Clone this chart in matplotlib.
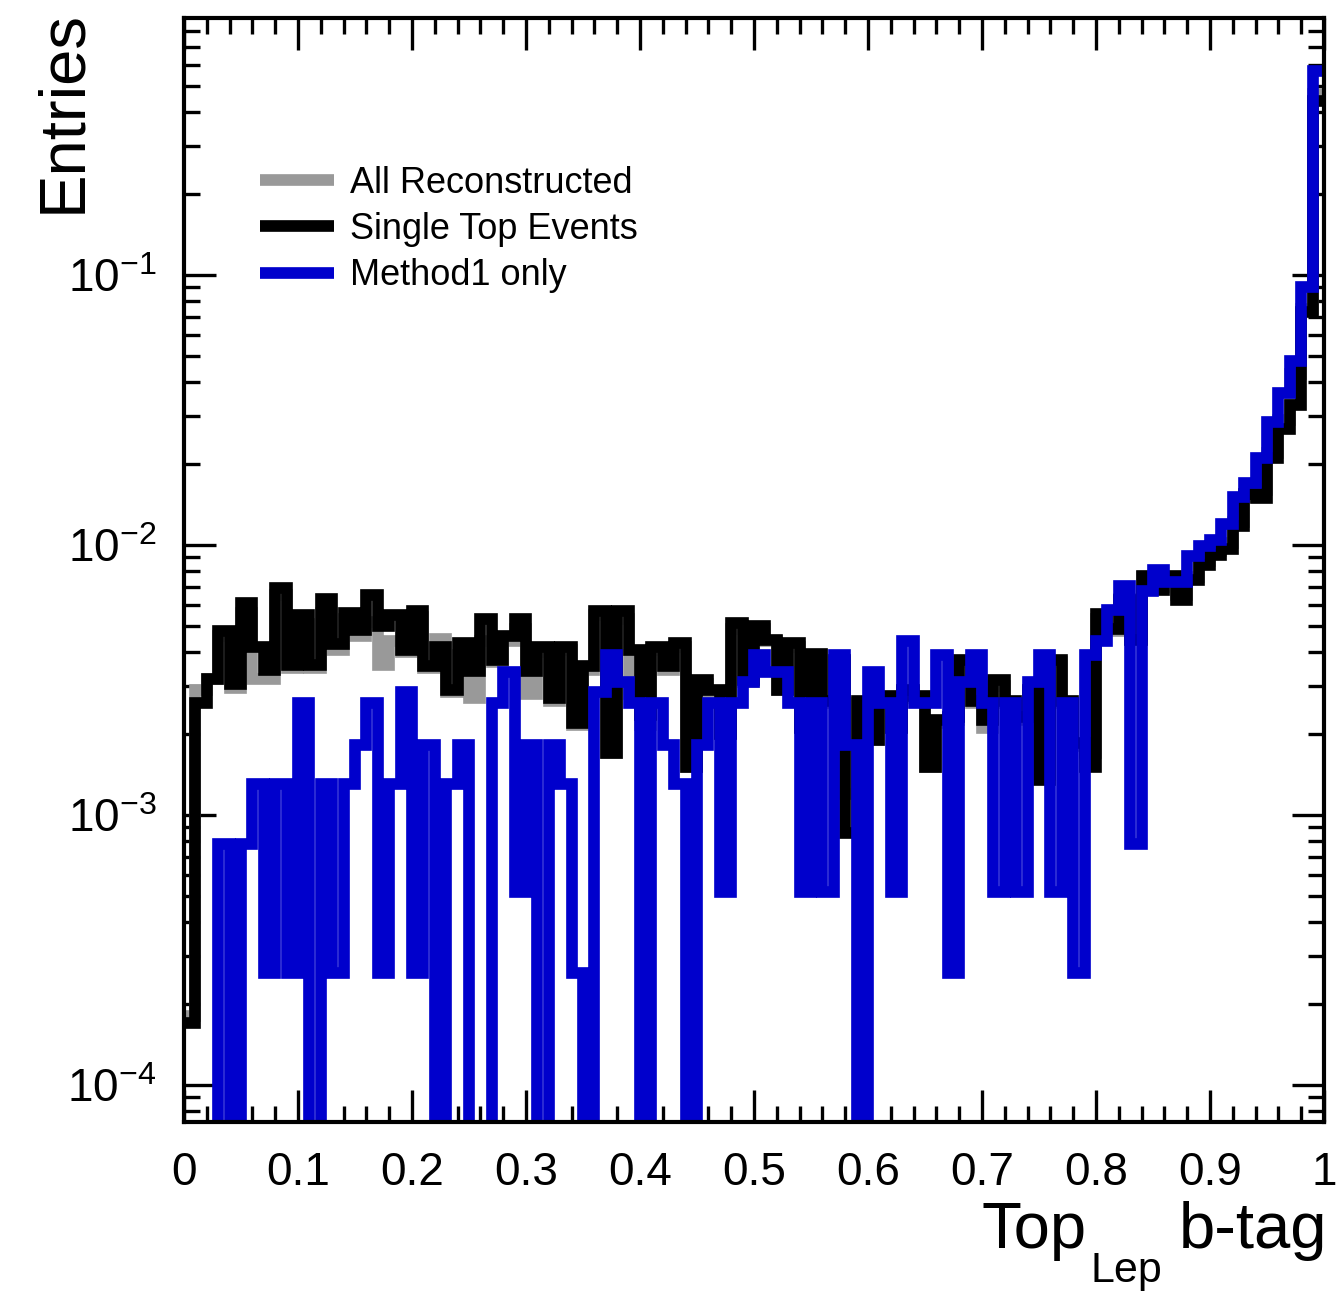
import numpy as np
import matplotlib
matplotlib.use("Agg")
import matplotlib.pyplot as plt
from matplotlib.lines import Line2D
from matplotlib.ticker import MultipleLocator, LogLocator, NullFormatter, FixedLocator, FixedFormatter

plt.rcParams['font.family'] = ['Liberation Sans', 'DejaVu Sans']
plt.rcParams['mathtext.default'] = 'regular'

# ---------------- data (100 bins of 0.01 in TopLep b-tag) ----------------
bin_lo, bin_hi, n_bins = 0.0, 1.0, 100

all_reconstructed = [
    1.8e-4, 2.9e-3, 3.2e-3, 4.6e-3, 2.95e-3, 5.6e-3, 3.2e-3, 3.2e-3, 6.5e-3, 3.5e-3,
    5.1e-3, 3.5e-3, 5.6e-3, 4.1e-3, 5.3e-3, 4.6e-3, 5.2e-3, 3.6e-3, 4.4e-3, 4.0e-3,
    5.4e-3, 3.5e-3, 4.5e-3, 2.85e-3, 3.9e-3, 2.7e-3, 4.4e-3, 3.7e-3, 4.4e-3, 4.9e-3,
    2.8e-3, 4.0e-3, 2.65e-3, 4.1e-3, 2.15e-3, 3.45e-3, 5.5e-3, 1.7e-3, 5.3e-3, 2.8e-3,
    2.15e-3, 4.1e-3, 3.45e-3, 4.2e-3, 1.5e-3, 3.05e-3, 2.85e-3, 2.0e-3, 4.9e-3, 3.1e-3,
    4.9e-3, 4.4e-3, 2.9e-3, 4.2e-3, 2.1e-3, 3.9e-3, 2.6e-3, 3.7e-3, 1.2e-3, 2.6e-3,
    1.9e-3, 2.7e-3, 2.1e-3, 2.85e-3, 2.7e-3, 1.5e-3, 2.2e-3, 2.25e-3, 3.7e-3, 2.6e-3,
    2.1e-3, 3.0e-3, 2.6e-3, 2.25e-3, 2.85e-3, 1.4e-3, 3.7e-3, 2.6e-3, 1.8e-3, 1.7e-3,
    5.3e-3, 4.8e-3, 6.3e-3, 4.6e-3, 7.6e-3, 7.0e-3, 7.6e-3, 6.5e-3, 7.6e-3, 8.7e-3,
    9.5e-3, 1.02e-2, 1.22e-2, 1.5e-2, 1.6e-2, 2.2e-2, 2.9e-2, 4.3e-2, 7.5e-2, 0.47,
]

single_top = [
    1.7e-4, 2.6e-3, 3.2e-3, 4.8e-3, 3.05e-3, 6.1e-3, 4.2e-3, 3.45e-3, 6.9e-3, 3.6e-3,
    5.5e-3, 3.6e-3, 6.3e-3, 4.3e-3, 5.6e-3, 4.85e-3, 6.5e-3, 5.0e-3, 5.5e-3, 4.1e-3,
    5.7e-3, 3.55e-3, 4.2e-3, 2.9e-3, 4.35e-3, 3.4e-3, 5.3e-3, 3.75e-3, 4.6e-3, 5.3e-3,
    3.4e-3, 4.2e-3, 2.7e-3, 4.2e-3, 2.2e-3, 3.55e-3, 5.7e-3, 1.7e-3, 5.7e-3, 4.1e-3,
    2.35e-3, 4.2e-3, 3.55e-3, 4.35e-3, 1.5e-3, 3.15e-3, 2.9e-3, 2.0e-3, 5.15e-3, 3.15e-3,
    5.0e-3, 4.45e-3, 2.9e-3, 4.35e-3, 2.1e-3, 3.95e-3, 2.65e-3, 3.75e-3, 8.6e-4, 2.65e-3,
    1.9e-3, 2.75e-3, 2.1e-3, 2.9e-3, 2.75e-3, 1.5e-3, 2.25e-3, 2.3e-3, 3.75e-3, 2.65e-3,
    2.25e-3, 3.15e-3, 2.65e-3, 2.3e-3, 2.9e-3, 1.35e-3, 3.75e-3, 2.65e-3, 1.85e-3, 1.5e-3,
    5.55e-3, 4.9e-3, 6.25e-3, 4.45e-3, 7.7e-3, 6.8e-3, 7.7e-3, 6.25e-3, 7.4e-3, 8.4e-3,
    9.2e-3, 9.7e-3, 1.18e-2, 1.55e-2, 1.49e-2, 2.1e-2, 2.7e-2, 3.3e-2, 7.3e-2, 0.44,
]

# Method1-only: event counts per bin and the per-event weight (unit-area normalisation)
method1_counts = [
    0, 0, 0, 3, 0, 3, 5, 1, 5, 1,
    10, 0, 5, 1, 5, 7, 10, 1, 5, 11,
    1, 7, 0, 5, 7, 0, 0, 10, 13, 2,
    7, 0, 7, 5, 1, 0, 11, 15, 12, 10,
    0, 10, 7, 5, 0, 7, 10, 2, 10, 12,
    15, 13, 13, 10, 2, 10, 2, 15, 7, 0,
    13, 10, 2, 17, 10, 10, 15, 1, 12, 15,
    10, 2, 10, 2, 12, 15, 2, 10, 1, 15,
    17, 22, 27, 3, 26, 31, 28, 28, 35, 38,
    40, 46, 58, 65, 81, 110, 141, 185, 346, 2190,
]
method1_weight = 2.6e-4

series_labels = ["All Reconstructed", "Single Top Events", "Method1 only"]
series_colors = ["#999999", "#000000", "#0000cc"]

x_ticks = [0.0, 0.1, 0.2, 0.3, 0.4, 0.5, 0.6, 0.7, 0.8, 0.9, 1.0]
x_tick_labels = ["0", "0.1", "0.2", "0.3", "0.4", "0.5", "0.6", "0.7", "0.8", "0.9", "1"]
y_ticks = [1e-4, 1e-3, 1e-2, 1e-1]
y_tick_labels = [r"$10^{-4}$", r"$10^{-3}$", r"$10^{-2}$", r"$10^{-1}$"]
y_range = (7.29e-5, 0.895)

# ---------------- figure ----------------
W, H = 1338, 1294
fig = plt.figure(figsize=(W / 100, H / 100), dpi=100)
fig.patch.set_facecolor("white")
ax = fig.add_axes([184 / W, 1 - 1122 / H, (1324 - 184) / W, (1122 - 18) / H])

edges = np.linspace(bin_lo, bin_hi, n_bins + 1)
series = [np.asarray(all_reconstructed),
          np.asarray(single_top),
          np.asarray(method1_counts, dtype=float) * method1_weight]

LW = 8.4  # points (~11.7 px)
for vals, col, z in zip(series, series_colors, [3, 4, 5]):
    shown = np.where(vals > 0, vals, 1e-8)  # empty bins drop below the frame on log scale
    ax.stairs(shown, edges, color=col, linewidth=LW, baseline=None, zorder=z)

ax.set_yscale("log")
ax.set_xlim(bin_lo, bin_hi)
ax.set_ylim(*y_range)

ax.xaxis.set_major_locator(FixedLocator(x_ticks))
ax.xaxis.set_major_formatter(FixedFormatter(x_tick_labels))
ax.xaxis.set_minor_locator(MultipleLocator(0.02))
ax.yaxis.set_major_locator(FixedLocator(y_ticks))
ax.yaxis.set_major_formatter(FixedFormatter(y_tick_labels))
ax.yaxis.set_minor_locator(LogLocator(base=10, subs=np.arange(2, 10), numticks=20))
ax.yaxis.set_minor_formatter(NullFormatter())

for s in ax.spines.values():
    s.set_linewidth(3.0)
    s.set_zorder(6)
ax.tick_params(which="both", direction="in", top=True, right=True, width=2.4, colors="black")
ax.tick_params(which="major", length=23)
ax.tick_params(which="minor", length=11.5)
ax.tick_params(axis="x", which="major", labelsize=33, pad=21)
ax.tick_params(axis="y", which="major", labelsize=33, pad=20)

# legend
handles = [Line2D([], [], color=c, linewidth=LW, solid_capstyle="butt") for c in series_colors]
ax.legend(handles, series_labels, loc="upper left", bbox_to_anchor=(0.0667, 0.866),
          frameon=False, fontsize=26, handlelength=2.05, handletextpad=0.45,
          labelspacing=0.31, borderpad=0, borderaxespad=0)

# axis titles (ROOT style)
fig.text(1327 / W, 1 - 1248 / H, "b-tag", fontsize=47, ha="right", va="baseline")
fig.text(1087 / W, 1 - 1248 / H, "Top", fontsize=47, ha="right", va="baseline")
fig.text(1090 / W, 1 - 1282 / H, "Lep", fontsize=31, ha="left", va="baseline")
fig.text(80 / W, 1 - 10 / H, "Entries", fontsize=47, rotation=90,
         rotation_mode="anchor", ha="right", va="baseline")

fig.savefig("out.png", dpi=100, facecolor="white")
